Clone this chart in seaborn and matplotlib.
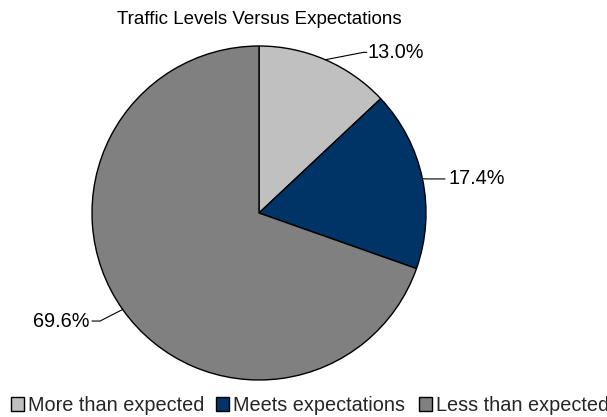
import numpy as np
import matplotlib
matplotlib.use("Agg")
import matplotlib.pyplot as plt
import seaborn as sns

categories = ["More than expected", "Meets expectations", "Less than expected"]
values = [13.0, 17.4, 69.6]
colors = ["#C0C0C0", "#003366", "#808080"]
title = "Traffic Levels Versus Expectations"

sns.set_theme(style="white")
plt.rcParams["font.family"] = ["Liberation Sans", "DejaVu Sans"]

W, H = 607, 417
fig = plt.figure(figsize=(W / 100, H / 100), dpi=100)
cx, cy, r = 259, 213, 167
ax = fig.add_axes([(cx - r) / W, (H - cy - r) / H, 2 * r / W, 2 * r / H])
wedges, _ = ax.pie(values, colors=colors, startangle=90, counterclock=False,
                   radius=1.0, wedgeprops=dict(edgecolor="black", linewidth=1.0))
ax.set_xlim(-1, 1)
ax.set_ylim(-1, 1)
ax.set_aspect("equal")
ax.axis("off")

# leader line layout
layouts = [
    dict(elbow=(0.625, 0.962), end=(0.645, 0.962), tx=0.652, ha="left"),
    dict(elbow=(1.0, 0.204), end=(1.114, 0.204), tx=1.135, ha="left"),
    dict(elbow=(-0.952, -0.647), end=(-1.0, -0.647), tx=-1.012, ha="right"),
]
for w, v, lay in zip(wedges, values, layouts):
    ang = np.deg2rad((w.theta1 + w.theta2) / 2)
    ex, ey = np.cos(ang), np.sin(ang)
    xs = [ex, lay["elbow"][0], lay["end"][0]]
    ys = [ey, lay["elbow"][1], lay["end"][1]]
    ax.plot(xs, ys, color="black", lw=0.8, clip_on=False)
    ax.text(lay["tx"], lay["end"][1], f"{v:.1f}%", ha=lay["ha"], va="center",
            fontsize=14.3, color="black", clip_on=False)

fig.text(cx / W, 1 - 20 / H, title, ha="center", va="center", fontsize=13.5, color="black")

legend_x = [11, 216, 419]
for w, cat, lx in zip(wedges, categories, legend_x):
    leg = fig.legend([w], [cat], loc="center left", bbox_to_anchor=(lx / W, 1 - 405.5 / H),
                     frameon=False, fontsize=14.3, handlelength=0.66, handleheight=0.66,
                     handletextpad=0.2, borderaxespad=0, borderpad=0)

fig.savefig("out.png", dpi=100)
